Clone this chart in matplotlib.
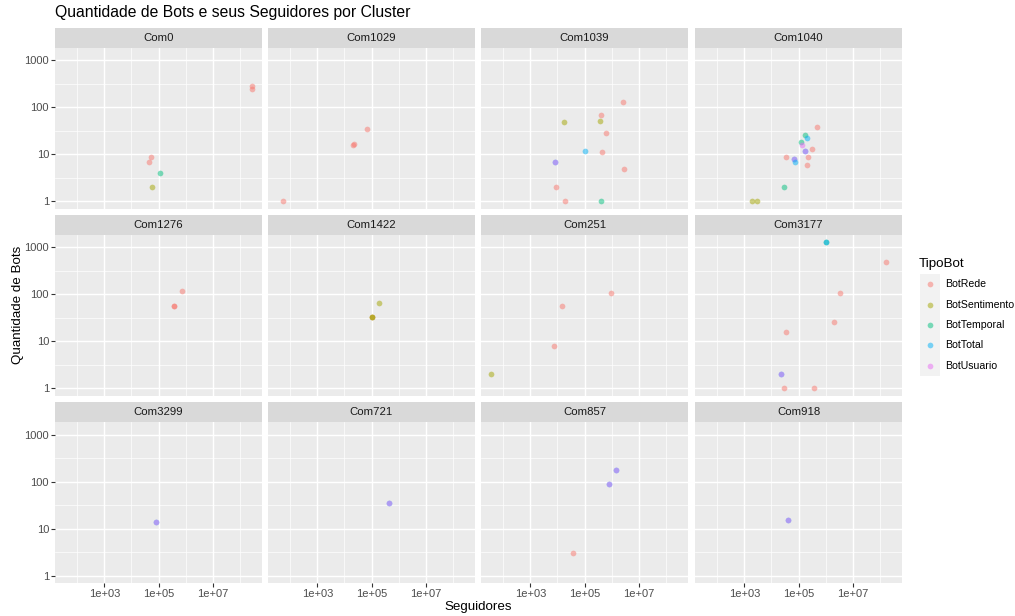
import matplotlib
matplotlib.use('Agg')
import matplotlib.pyplot as plt

plt.rcParams['font.family'] = ['Liberation Sans', 'DejaVu Sans']

# ---------------- data ----------------
paineis = ['Com0', 'Com1029', 'Com1039', 'Com1040',
           'Com1276', 'Com1422', 'Com251', 'Com3177',
           'Com3299', 'Com721', 'Com857', 'Com918']
tipos = ['BotRede', 'BotSentimento', 'BotTemporal', 'BotTotal', 'BotUsuario']
cores = ['#F8766D', '#A3A500', '#00BF7D', '#00B0F6', '#E76BF3']

cluster = (['Com0'] * 6 + ['Com1029'] * 4 + ['Com1039'] * 13 + ['Com1040'] * 17 +
           ['Com1276'] * 3 + ['Com1422'] * 4 + ['Com251'] * 4 + ['Com3177'] * 10 +
           ['Com3299'] * 2 + ['Com721'] * 2 + ['Com857'] * 5 + ['Com918'] * 2)
tipo = [
    # Com0
    'BotRede', 'BotRede', 'BotRede', 'BotRede', 'BotTemporal', 'BotSentimento',
    # Com1029
    'BotRede', 'BotRede', 'BotRede', 'BotRede',
    # Com1039
    'BotRede', 'BotRede', 'BotSentimento', 'BotSentimento', 'BotRede', 'BotTotal',
    'BotRede', 'BotTotal', 'BotUsuario', 'BotRede', 'BotRede', 'BotRede', 'BotTemporal',
    # Com1040
    'BotRede', 'BotTemporal', 'BotTotal', 'BotTemporal', 'BotUsuario', 'BotRede',
    'BotTotal', 'BotUsuario', 'BotRede', 'BotRede', 'BotTotal', 'BotUsuario',
    'BotTotal', 'BotRede', 'BotTemporal', 'BotSentimento', 'BotSentimento',
    # Com1276
    'BotRede', 'BotRede', 'BotRede',
    # Com1422
    'BotSentimento', 'BotRede', 'BotSentimento', 'BotSentimento',
    # Com251
    'BotRede', 'BotRede', 'BotRede', 'BotSentimento',
    # Com3177
    'BotTemporal', 'BotTotal', 'BotRede', 'BotRede', 'BotRede', 'BotRede',
    'BotTotal', 'BotUsuario', 'BotRede', 'BotRede',
    # Com3299
    'BotTotal', 'BotUsuario',
    # Com721
    'BotTotal', 'BotUsuario',
    # Com857
    'BotTotal', 'BotUsuario', 'BotTotal', 'BotUsuario', 'BotRede',
    # Com918
    'BotTotal', 'BotUsuario',
]
seguidores = [
    # Com0
    2.9e8, 2.9e8, 52000, 46000, 118000, 59000,
    # Com1029
    55, 21000, 23000, 66000,
    # Com1039
    2.6e6, 4.1e5, 17000, 3.8e5, 6.0e5, 1.05e5, 4.6e5, 8000, 8000, 2.9e6, 8900, 19000, 4.1e5,
    # Com1040
    4.7e5, 1.7e5, 2.1e5, 1.27e5, 1.35e5, 3.2e5, 1.7e5, 1.7e5, 35000, 2.2e5,
    66000, 66000, 74000, 2.0e5, 28000, 1900, 3000,
    # Com1276
    7.6e5, 3.7e5, 3.7e5,
    # Com1422
    1.95e5, 1.0e5, 1.0e5, 1.0e5,
    # Com251
    9.6e5, 15000, 7600, 35,
    # Com3177
    1.06e6, 1.06e6, 1.7e8, 3.5e6, 2.1e6, 35000, 23000, 23000, 29000, 3.6e5,
    # Com3299
    82000, 82000,
    # Com721
    4.4e5, 4.4e5,
    # Com857
    1.5e6, 1.5e6, 7.8e5, 7.8e5, 39000,
    # Com918
    42000, 42000,
]
bots = [
    # Com0
    290, 240, 9, 7, 4, 2,
    # Com1029
    1, 16, 17, 34,
    # Com1039
    130, 67, 49, 50, 28, 12, 11, 7, 7, 5, 2, 1, 1,
    # Com1040
    39, 26, 22, 18, 16, 13, 12, 12, 9, 9, 8, 8, 7, 6, 2, 1, 1,
    # Com1276
    116, 57, 57,
    # Com1422
    65, 33, 33, 33,
    # Com251
    105, 56, 8, 2,
    # Com3177
    1290, 1290, 487, 105, 26, 16, 2, 2, 1, 1,
    # Com3299
    14, 14,
    # Com721
    35, 35,
    # Com857
    180, 180, 89, 89, 3,
    # Com918
    15, 15,
]

x_breaks = [1e3, 1e5, 1e7]
x_labels = ['1e+03', '1e+05', '1e+07']
x_minor = [1e2, 1e4, 1e6, 1e8]
y_breaks = [1, 10, 100, 1000]
y_labels = ['1', '10', '100', '1000']
y_minor = [10 ** 0.5, 10 ** 1.5, 10 ** 2.5]

# ---------------- layout ----------------
W, H = 1015, 616
fig = plt.figure(figsize=(W / 100, H / 100), dpi=100)
fig.patch.set_facecolor('white')

def frac(l, t, w, h):
    return [l / W, 1 - (t + h) / H, w / W, h / H]

pw, ph = 207, 160.5
col_left = [55, 268, 481, 695]
row_top = [48, 235, 422.3]
strip_h = 20.5

cor_de = dict(zip(tipos, cores))
fs_tick = 8.0
fs_strip = 8.2
fs_axis = 9.6
fs_title = 11.3
fs_leg = 7.6
alpha = 0.5

for i, nome in enumerate(paineis):
    r, c = divmod(i, 4)
    l, t = col_left[c], row_top[r]
    ax = fig.add_axes(frac(l, t, pw, ph))
    ax.set_facecolor('#EBEBEB')
    ax.set_xscale('log')
    ax.set_yscale('log')
    ax.set_xlim(10 ** 1.18, 10 ** 8.82)
    ax.set_ylim(10 ** -0.15, 10 ** 3.26)
    ax.set_xticks(x_breaks)
    ax.set_xticks(x_minor, minor=True)
    ax.set_yticks(y_breaks)
    ax.set_yticks(y_minor, minor=True)
    ax.grid(which='major', color='white', lw=1.05)
    ax.grid(which='minor', color='white', lw=0.5)
    ax.set_axisbelow(True)
    for s in ax.spines.values():
        s.set_visible(False)
    ax.tick_params(which='minor', length=0, labelbottom=False, labelleft=False)
    ax.tick_params(which='major', length=2.7, width=0.8, color='#333333',
                   labelsize=fs_tick, labelcolor='#4D4D4D', pad=1.6)
    if r == 2:
        ax.set_xticklabels(x_labels)
    else:
        ax.tick_params(axis='x', which='major', length=0, labelbottom=False)
    if c == 0:
        ax.set_yticklabels(y_labels)
    else:
        ax.tick_params(axis='y', which='major', length=0, labelleft=False)

    for cl, tp, xs, ys in zip(cluster, tipo, seguidores, bots):
        if cl == nome:
            ax.scatter([xs], [ys], s=17, color=cor_de[tp], alpha=alpha,
                       linewidths=0, zorder=3)

    sax = fig.add_axes(frac(l, t - strip_h, pw, strip_h))
    sax.set_facecolor('#D9D9D9')
    sax.set_xticks([])
    sax.set_yticks([])
    for s in sax.spines.values():
        s.set_visible(False)
    sax.text(0.5, 0.5, nome, ha='center', va='center', fontsize=fs_strip,
             color='#1A1A1A', transform=sax.transAxes)

# titles
fig.text(55 / W, 1 - 13 / H, 'Quantidade de Bots e seus Seguidores por Cluster',
         ha='left', va='center', fontsize=fs_title, color='black')
fig.text((55 + 902) / 2 / W, 1 - 607 / H, 'Seguidores', ha='center', va='center',
         fontsize=fs_axis, color='black')
fig.text(18 / W, 1 - 305 / H, 'Quantidade de Bots', ha='center', va='center',
         rotation=90, fontsize=fs_axis, color='black')

# legend
fig.text(919 / W, 1 - 264 / H, 'TipoBot', ha='left', va='center', fontsize=fs_axis,
         color='black')
key_h = 20.4
lax = fig.add_axes(frac(920, 274, 20, key_h * len(tipos)))
lax.set_facecolor('#F2F2F2')
lax.set_xlim(0, 1)
lax.set_ylim(len(tipos) - 0.5, -0.5)
lax.set_xticks([])
lax.set_yticks([])
for s in lax.spines.values():
    s.set_visible(False)
for k, (tp, cor) in enumerate(zip(tipos, cores)):
    lax.scatter([0.5], [k], s=17, color=cor, alpha=alpha, linewidths=0)
    fig.text(945.5 / W, 1 - (274 + key_h * (k + 0.5)) / H, tp, ha='left',
             va='center', fontsize=fs_leg, color='black')

fig.savefig('out.png', dpi=100)
